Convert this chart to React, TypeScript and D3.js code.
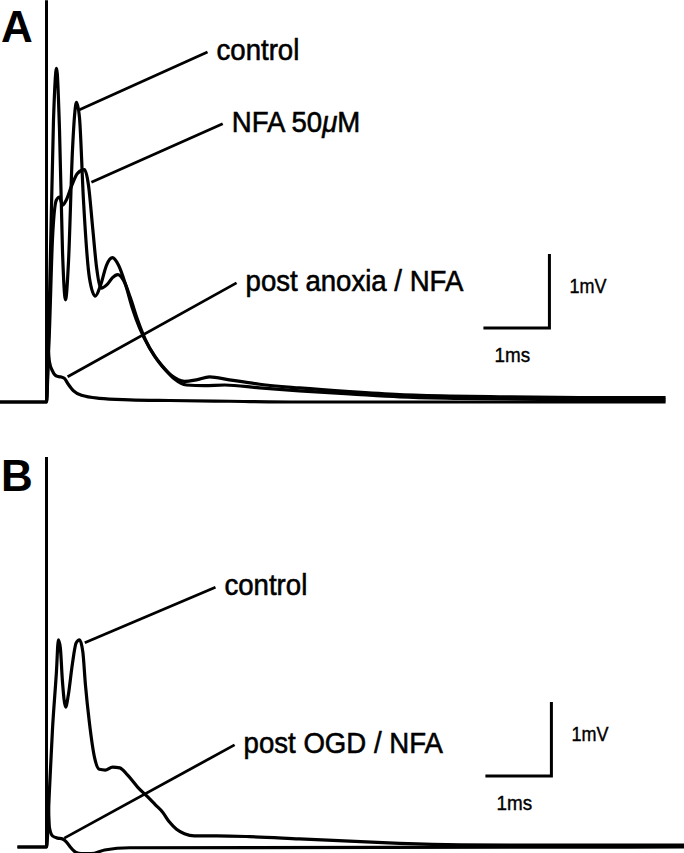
import React from 'react';
import * as d3 from 'd3';

// time in ms (0 = stimulus), voltage in mV above baseline
const controlA: [number, number][] = [
  [-0.72, 0], [0, 0], [0.045, 1.38], [0.106, 3.81], [0.152, 4.51], [0.197, 3.68], [0.242, 2.05],
  [0.288, 1.38], [0.333, 1.89], [0.394, 3.41], [0.455, 4.05], [0.5, 3.84], [0.56, 2.73],
  [0.65, 1.68], [0.74, 1.43], [0.82, 1.58], [0.91, 1.85], [1.0, 1.95], [1.09, 1.85],
  [1.2, 1.58], [1.3, 1.27], [1.41, 1.0], [1.56, 0.73], [1.71, 0.53], [1.89, 0.36],
  [2.09, 0.28], [2.27, 0.3], [2.47, 0.34], [2.77, 0.3], [3.23, 0.24], [3.83, 0.19],
  [4.59, 0.14], [5.35, 0.1], [6.11, 0.08], [6.86, 0.07], [8.08, 0.06], [9.38, 0.06],
];
const nfaA: [number, number][] = [
  [0, 0], [0.045, 0.97], [0.09, 2.19], [0.15, 2.73], [0.197, 2.77], [0.242, 2.66], [0.3, 2.73],
  [0.38, 2.92], [0.47, 3.09], [0.576, 3.14], [0.636, 2.93], [0.7, 2.35], [0.76, 1.81],
  [0.83, 1.54], [0.92, 1.59], [1.0, 1.68], [1.08, 1.72], [1.17, 1.64], [1.27, 1.41],
  [1.38, 1.11], [1.5, 0.84], [1.64, 0.62], [1.79, 0.45], [1.94, 0.31], [2.12, 0.23],
  [2.39, 0.22], [2.7, 0.23], [3.23, 0.19], [3.83, 0.15], [4.59, 0.11], [5.35, 0.07],
  [6.26, 0.05], [7.47, 0.035], [9.38, 0.03],
];
const anoxiaA: [number, number][] = [
  [-0.72, 0], [0, 0], [0.015, 0.77], [0.045, 0.54], [0.09, 0.42], [0.15, 0.35], [0.21, 0.34],
  [0.27, 0.32], [0.33, 0.24], [0.41, 0.15], [0.53, 0.09], [0.8, 0.05], [1.26, 0.03],
  [1.86, 0.02], [2.77, 0.01], [3.83, 0], [9.38, 0],
];
const controlB: [number, number][] = [
  [-0.44, 0], [0, 0], [0.045, 0.77], [0.09, 1.58], [0.15, 2.36], [0.18, 2.8], [0.21, 2.69],
  [0.24, 2.26], [0.29, 1.89], [0.33, 2.05], [0.39, 2.46], [0.45, 2.76], [0.5, 2.8],
  [0.55, 2.64], [0.59, 2.19], [0.65, 1.68], [0.73, 1.2], [0.8, 1.05], [0.89, 1.04],
  [1.0, 1.08], [1.11, 1.07], [1.23, 0.97], [1.38, 0.81], [1.53, 0.68], [1.65, 0.57],
  [1.76, 0.47], [1.86, 0.34], [1.97, 0.24], [2.09, 0.18], [2.24, 0.15], [2.58, 0.15],
  [3.08, 0.14], [3.83, 0.11], [4.59, 0.08], [5.35, 0.05], [6.26, 0.03], [7.47, 0.025], [9.7, 0.025],
];
const ogdB: [number, number][] = [
  [-0.44, 0], [0, 0], [0.015, 0.77], [0.045, 0.26], [0.09, 0.15], [0.17, 0.12], [0.24, 0.11],
  [0.3, 0.07], [0.36, 0], [0.44, -0.07], [0.53, -0.09], [0.68, -0.09], [0.88, -0.04],
  [1.26, -0.01], [9.7, 0],
];
const stimulusTop = { A: 5.43, B: 5.27 };

const labelsA = ['control', 'NFA 50', 'post anoxia / NFA'];
const labelsB = ['control', 'post OGD / NFA'];
// leader lines: [trace t, trace v, label t, label v]
const leadersA: [number, number, number, number][] = [
  [0.5, 3.95, 2.44, 4.73],
  [0.68, 2.97, 2.67, 3.76],
  [0.32, 0.34, 2.88, 1.61],
];
const leadersB: [number, number, number, number][] = [
  [0.58, 2.76, 2.56, 3.51],
  [0.27, 0.12, 2.85, 1.38],
];
const scaleBarA = { t: 7.62, v: 1.0 };
const scaleBarB = { t: 7.65, v: 0.96 };

const W = 684;
const H = 853;
const x = d3.scaleLinear().domain([0, 1]).range([46.5, 112.5]);
const yA = d3.scaleLinear().domain([0, 1]).range([402, 328]);
const yB = d3.scaleLinear().domain([0, 1]).range([847, 773]);

const font = '"Liberation Sans", Arial, Helvetica, sans-serif';

const Label = ({ px, py, children }: { px: number; py: number; children: React.ReactNode }) => (
  <text
    transform={`translate(${px},${py}) scale(0.92,1)`}
    fontSize={30} fontFamily={font} fill="#000" stroke="#000" strokeWidth={0.6}
  >
    {children}
  </text>
);

const Panel = ({ y, traces, labels, leaders, bar, top, letter, letterY }: any) => {
  const line = d3.line<[number, number]>()
    .x(d => x(d[0]))
    .y(d => y(d[1]))
    .curve(d3.curveMonotoneX);
  return (
    <g>
      <text x={1} y={letterY} fontSize={44} fontWeight="bold" fontFamily={font}>{letter}</text>
      <line x1={x(0)} x2={x(0)} y1={y(0)} y2={y(top)} stroke="#000" strokeWidth={3} />
      {traces.map((tr: [number, number][], i: number) => (
        <path key={i} d={line(tr) || ''} fill="none" stroke="#000" strokeWidth={3.2} strokeLinejoin="round" />
      ))}
      {leaders.map((l: number[], i: number) => (
        <g key={i}>
          <line x1={x(l[0])} y1={y(l[1])} x2={x(l[2])} y2={y(l[3])} stroke="#000" strokeWidth={2.8} />
          <Label px={x(l[2]) + 9} py={y(l[3]) + 8}>
            {labels[i]}
            {labels[i] === 'NFA 50' ? (
              <>
                <tspan fontStyle="italic">μ</tspan>M
              </>
            ) : null}
          </Label>
        </g>
      ))}
      <path
        d={`M${x(bar.t - 1)},${y(bar.v)}H${x(bar.t)}V${y(bar.v + 1)}`}
        fill="none" stroke="#000" strokeWidth={3}
      />
      <text
        transform={`translate(${x(bar.t) + 20},${y(bar.v + 0.47)}) scale(0.9,1)`}
        fontSize={20} fontFamily={font} stroke="#000" strokeWidth={0.4}
      >1mV</text>
      <text
        transform={`translate(${x(bar.t - 1) + 11},${y(bar.v - 0.46)}) scale(0.9,1)`}
        fontSize={21} fontFamily={font} stroke="#000" strokeWidth={0.4}
      >1ms</text>
    </g>
  );
};

export default function App() {
  return (
    <svg width={W} height={H} style={{ position: 'absolute', left: 0, top: 0, background: '#fff' }}>
      <rect width={W} height={H} fill="#fff" />
      <Panel
        y={yA} traces={[anoxiaA, nfaA, controlA]} labels={labelsA} leaders={leadersA}
        bar={scaleBarA} top={stimulusTop.A} letter="A" letterY={42}
      />
      <Panel
        y={yB} traces={[ogdB, controlB]} labels={labelsB} leaders={leadersB}
        bar={scaleBarB} top={stimulusTop.B} letter="B" letterY={491}
      />
    </svg>
  );
}
